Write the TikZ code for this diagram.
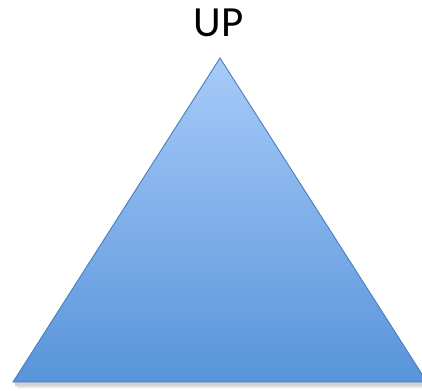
\documentclass[tikz,border=0pt]{standalone}
\usepackage{fontspec}
\setmainfont{Carlito}
\usetikzlibrary{shadows,fadings}
\definecolor{triTop}{HTML}{A7CBF9}
\definecolor{triBot}{HTML}{5894DA}
\definecolor{triLine}{HTML}{4A7EBB}
\tikzset{
  label text/.style={font=\fontsize{43}{46}\selectfont, text=black, inner sep=0pt, anchor=base},
  tri shade/.style={top color=triTop, bottom color=triBot, shading angle=0},
  tri edge/.style={draw=triLine, line width=0.9pt, line join=miter},
}
\begin{document}
\begin{tikzpicture}[x=1pt,y=-1pt]
  \useasboundingbox (0,0) rectangle (422,390);
  \coordinate (apex) at (220,58);
  \coordinate (bl) at (13,382);
  \coordinate (br) at (427,382);
  % soft shadow below the base
  \fill[black!35, opacity=0.5] (15,382) rectangle (427,385.5);
  \fill[black!20, opacity=0.5] (17,385.5) rectangle (427,387.5);
  \shade[tri shade] (apex) -- (br) -- (bl) -- cycle;
  \draw[tri edge] (apex) -- (br) -- (bl) -- cycle;
  \node[label text] (up) at (218.5,37) {UP};
\end{tikzpicture}
\end{document}
